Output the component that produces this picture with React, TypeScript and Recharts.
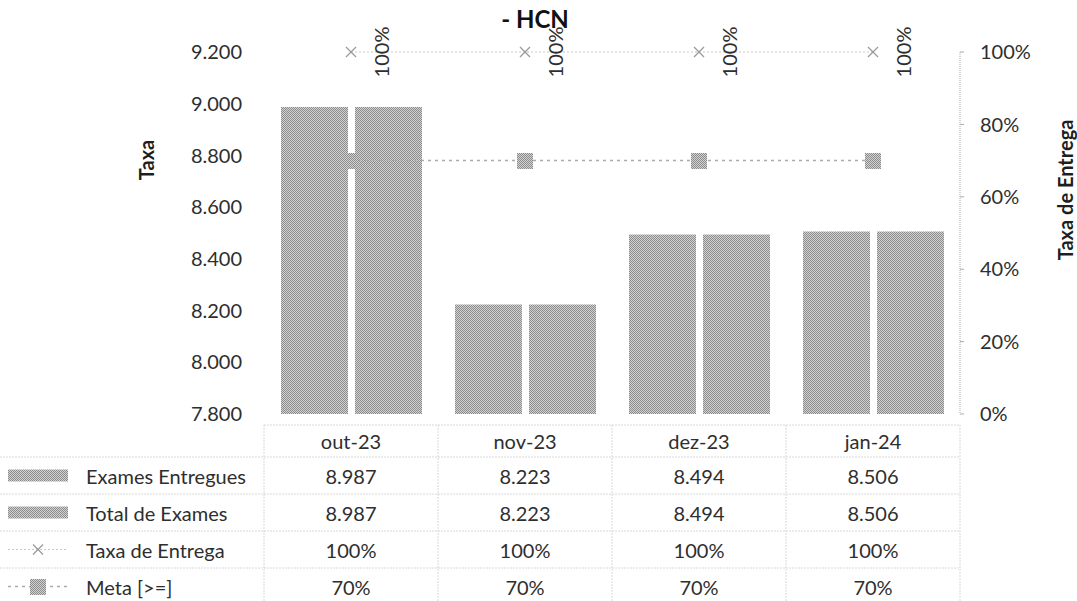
import {
  Bar,
  ComposedChart,
  Line,
  XAxis,
  YAxis,
} from 'recharts'

const months = ['out-23', 'nov-23', 'dez-23', 'jan-24']
const examesEntregues = [8987, 8223, 8494, 8506]
const totalExames = [8987, 8223, 8494, 8506]
const taxaEntrega = [1, 1, 1, 1]
const meta = [0.7, 0.7, 0.7, 0.7]
const leftTicks = [7800, 8000, 8200, 8400, 8600, 8800, 9000, 9200]
const rightTicks = [0, 0.2, 0.4, 0.6, 0.8, 1]

const data = months.map((m, i) => ({
  month: m,
  entregues: examesEntregues[i],
  total: totalExames[i],
  taxa: taxaEntrega[i],
  meta: meta[i],
}))

const W = 1077
const H = 601
const PLOT_LEFT = 264
const PLOT_RIGHT = 960
const PLOT_TOP = 52
const PLOT_BOTTOM = 414
const COL_W = (PLOT_RIGHT - PLOT_LEFT) / months.length
const ROW_TOP = 457
const ROW_H = 37
const FONT = 'Lato, "Open Sans", sans-serif'
const FS = 20
const TEXT = '#2e2e2e'
const GRID = '#d8d8d8'

const fmtNum = (v: number) => String(v).replace(/\B(?=(\d{3})+(?!\d))/g, '.')
const fmtPct = (v: number) => `${Math.round(v * 100)}%`

const rows = [
  { name: 'Exames Entregues', values: examesEntregues.map(fmtNum), icon: 'bar' },
  { name: 'Total de Exames', values: totalExames.map(fmtNum), icon: 'bar' },
  { name: 'Taxa de Entrega', values: taxaEntrega.map(fmtPct), icon: 'x' },
  { name: 'Meta [>=]', values: meta.map(fmtPct), icon: 'sq' },
]

const XDot = (props: any) => {
  const { cx, cy } = props
  if (cx == null || cy == null) return null
  return (
    <g>
      <line x1={cx - 5} y1={cy - 5} x2={cx + 5} y2={cy + 5} stroke='#9a9a9a' strokeWidth={1.2} />
      <line x1={cx - 5} y1={cy + 5} x2={cx + 5} y2={cy - 5} stroke='#9a9a9a' strokeWidth={1.2} />
    </g>
  )
}

const SquareDot = (props: any) => {
  const { cx, cy } = props
  if (cx == null || cy == null) return null
  return <rect x={Math.round(cx - 8)} y={Math.round(cy - 8)} width={16} height={16} fill='url(#dither)' />
}

const TaxaLabel = (props: any) => {
  const { x, y, value } = props
  const lx = x + 30
  return (
    <text
      x={lx}
      y={y}
      transform={`rotate(-90 ${lx} ${y})`}
      textAnchor='middle'
      dominantBaseline='central'
      fontSize={FS}
      fontFamily={FONT}
      fill={TEXT}
    >
      {fmtPct(value)}
    </text>
  )
}

function LegendIcon({ kind, cy }: { kind: string; cy: number }) {
  if (kind === 'bar') {
    return <rect x={8} y={cy - 6} width={60} height={12} fill='url(#dither)' />
  }
  if (kind === 'x') {
    return (
      <g>
        <line x1={8} y1={cy} x2={68} y2={cy} stroke='#c8c8c8' strokeDasharray='2 2' />
        <XDot cx={38} cy={cy} />
      </g>
    )
  }
  return (
    <g>
      <line x1={8} y1={cy} x2={68} y2={cy} stroke='#ababab' strokeDasharray='3 4' strokeWidth={1.5} />
      <SquareDot cx={38} cy={cy} />
    </g>
  )
}

function Overlay() {
  return (
    <svg width={W} height={H} style={{ position: 'absolute', left: 0, top: 0, pointerEvents: 'none' }}>
      <text x={535} y={18} textAnchor='middle' dominantBaseline='central' fontSize={24} fontWeight='bold' fontFamily={FONT} fill='#111'>
        - HCN
      </text>
      <text x={146} y={160} transform='rotate(-90 146 160)' textAnchor='middle' dominantBaseline='central' fontSize={FS} fontWeight='bold' fontFamily={FONT} fill='#1e1e1e'>
        Taxa
      </text>
      <text x={1065} y={190} transform='rotate(-90 1065 190)' textAnchor='middle' dominantBaseline='central' fontSize={FS} fontWeight='bold' fontFamily={FONT} fill='#1e1e1e'>
        Taxa de Entrega
      </text>

      {/* data table */}
      <line x1={PLOT_LEFT} y1={425} x2={PLOT_RIGHT} y2={425} stroke={GRID} strokeDasharray='2 1' />
      {rows.map((_, i) => (
        <line key={`h${i}`} x1={0} y1={ROW_TOP + i * ROW_H} x2={PLOT_RIGHT} y2={ROW_TOP + i * ROW_H} stroke={GRID} strokeDasharray='2 1' />
      ))}
      {months.map((_, i) => (
        <line key={`v${i}`} x1={PLOT_LEFT + i * COL_W} y1={425} x2={PLOT_LEFT + i * COL_W} y2={H} stroke={GRID} strokeDasharray='2 1' />
      ))}
      <line x1={PLOT_RIGHT} y1={425} x2={PLOT_RIGHT} y2={H} stroke={GRID} strokeDasharray='2 1' />
      {rows.map((r, i) => {
        const cy = ROW_TOP + i * ROW_H + ROW_H / 2
        return (
          <g key={r.name}>
            <LegendIcon kind={r.icon} cy={cy} />
            <text x={86} y={cy} dominantBaseline='central' fontSize={FS} fontFamily={FONT} fill={TEXT}>
              {r.name}
            </text>
            {r.values.map((v, j) => (
              <text key={j} x={PLOT_LEFT + (j + 0.5) * COL_W} y={cy} textAnchor='middle' dominantBaseline='central' fontSize={FS} fontFamily={FONT} fill={TEXT}>
                {v}
              </text>
            ))}
          </g>
        )
      })}
    </svg>
  )
}

export default function App() {
  return (
    <div style={{ position: 'absolute', left: 0, top: 0, width: W, height: H, background: '#fff' }}>
      <svg width={0} height={0} style={{ position: 'absolute' }}>
        <defs>
          <pattern id='dither' width={2} height={2} patternUnits='userSpaceOnUse'>
            <rect x={0} y={0} width={2} height={2} fill='#d2d2d2' />
            <rect x={0} y={0} width={1} height={1} fill='#8c8c8c' />
            <rect x={1} y={1} width={1} height={1} fill='#8c8c8c' />
          </pattern>
        </defs>
      </svg>
      <ComposedChart
        width={W}
        height={H}
        data={data}
        margin={{ top: PLOT_TOP, right: 0, left: 0, bottom: H - PLOT_BOTTOM - 40 }}
        barSize={67}
        barGap={7}
      >
        <XAxis
          dataKey='month'
          height={40}
          axisLine={false}
          tickLine={false}
          tickMargin={15}
          tick={{ fontSize: FS, fontFamily: FONT, fill: TEXT }}
        />
        <YAxis
          yAxisId='left'
          width={PLOT_LEFT}
          domain={[7800, 9200]}
          ticks={leftTicks}
          allowDataOverflow
          axisLine={false}
          tickLine={false}
          tickMargin={16}
          tickFormatter={fmtNum}
          tick={{ fontSize: FS, fontFamily: FONT, fill: TEXT }}
        />
        <YAxis
          yAxisId='right'
          orientation='right'
          width={W - PLOT_RIGHT}
          domain={[0, 1]}
          ticks={rightTicks}
          axisLine={{ stroke: '#aaa', strokeDasharray: '1 1' }}
          tickLine={{ stroke: '#aaa' }}
          tickSize={4}
          tickMargin={16}
          tickFormatter={fmtPct}
          tick={{ fontSize: FS, fontFamily: FONT, fill: TEXT }}
        />
        <Line
          yAxisId='right'
          dataKey='meta'
          stroke='#ababab'
          strokeWidth={1.5}
          strokeDasharray='3 4'
          dot={<SquareDot />}
          activeDot={false}
          isAnimationActive={false}
        />
        <Bar yAxisId='left' dataKey='entregues' fill='url(#dither)' isAnimationActive={false} />
        <Bar yAxisId='left' dataKey='total' fill='url(#dither)' isAnimationActive={false} />
        <Line
          yAxisId='right'
          dataKey='taxa'
          stroke='#c8c8c8'
          strokeWidth={1.2}
          strokeDasharray='2 2'
          dot={<XDot />}
          activeDot={false}
          label={<TaxaLabel />}
          isAnimationActive={false}
        />
      </ComposedChart>
      <Overlay />
    </div>
  )
}
